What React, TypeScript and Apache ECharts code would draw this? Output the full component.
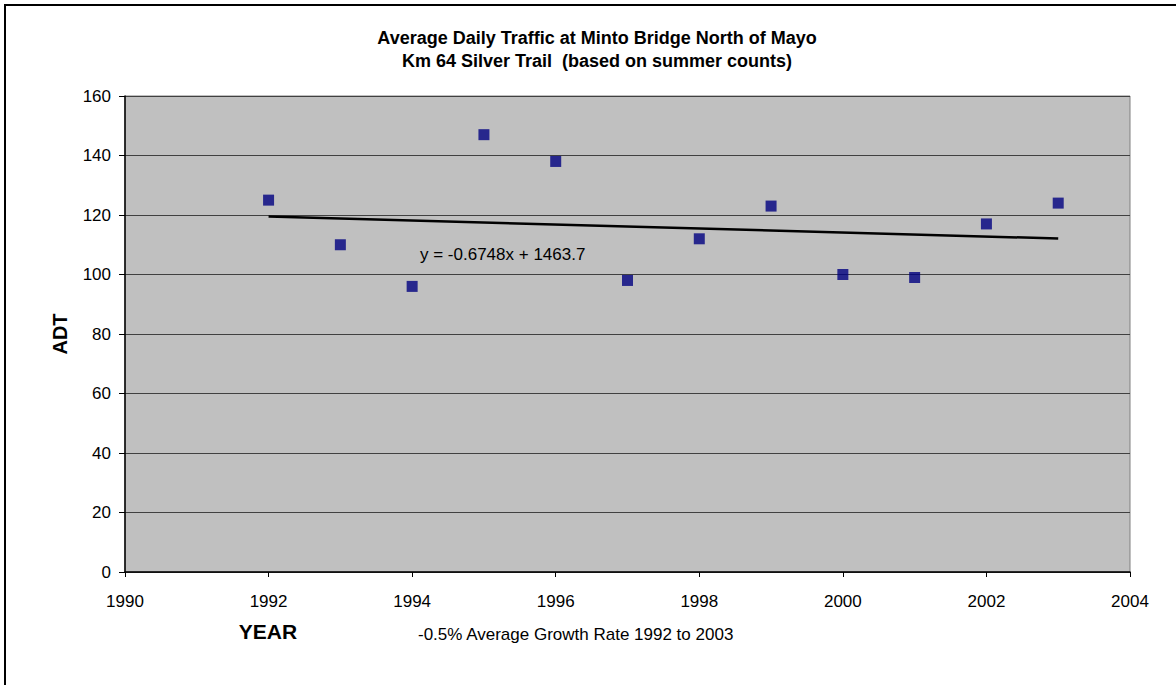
import React, { useEffect, useRef } from "react";
import * as echarts from "echarts";

const years = [1992, 1993, 1994, 1995, 1996, 1997, 1998, 1999, 2000, 2001, 2002, 2003];
const adt = [125, 110, 96, 147, 138, 98, 112, 123, 100, 99, 117, 124];
const trendYears = [1992, 2003];
const trendValues = [119.5, 112.1];
const titleLines = ["Average Daily Traffic at Minto Bridge North of Mayo", "Km 64 Silver Trail  (based on summer counts)"];
const equationText = "y = -0.6748x + 1463.7";
const growthText = "-0.5% Average Growth Rate 1992 to 2003";

const FONT = "'Liberation Sans', Arial, sans-serif";

export default function App() {
  const ref = useRef<HTMLDivElement>(null);
  useEffect(() => {
    if (!ref.current) return;
    const chart = echarts.init(ref.current, undefined, { renderer: "svg" });
    chart.setOption({
      animation: false,
      backgroundColor: "#ffffff",
      textStyle: { fontFamily: FONT },
      grid: {
        left: 125,
        top: 96,
        right: 46,
        bottom: 113,
        show: true,
        backgroundColor: "#c0c0c0",
        borderColor: "#808080",
        borderWidth: 1,
      },
      xAxis: {
        type: "value",
        min: 1990,
        max: 2004,
        interval: 2,
        axisLine: { show: true, lineStyle: { color: "#000", width: 1.5 } },
        axisTick: { show: true, length: 5, inside: false, lineStyle: { color: "#000" } },
        axisLabel: { color: "#000", fontSize: 17, fontFamily: FONT, margin: 21, formatter: (v: number) => String(v) },
        splitLine: { show: false },
      },
      yAxis: {
        type: "value",
        min: 0,
        max: 160,
        interval: 20,
        axisLine: { show: true, lineStyle: { color: "#000", width: 1.5 } },
        axisTick: { show: true, length: 6, lineStyle: { color: "#000" } },
        axisLabel: { color: "#000", fontSize: 17, fontFamily: FONT, margin: 14 },
        splitLine: { show: true, lineStyle: { color: "#404040", width: 1 } },
      },
      series: [
        {
          type: "scatter",
          data: years.map((y, i) => [y, adt[i]]),
          symbol: "rect",
          symbolSize: 11,
          itemStyle: { color: "#000080" },
          z: 3,
        },
        {
          type: "line",
          data: trendYears.map((y, i) => [y, trendValues[i]]),
          symbol: "none",
          lineStyle: { color: "#000", width: 2.5 },
          z: 2,
        },
      ],
      graphic: [
        {
          type: "rect",
          shape: { x: 5, y: 5, width: 1300, height: 800 },
          style: { fill: "none", stroke: "#000", lineWidth: 2 },
          silent: true,
        },
        {
          type: "text",
          x: 597,
          y: 38,
          style: { text: titleLines[0], fontSize: 18, fontWeight: "bold", fontFamily: FONT, fill: "#000", align: "center", verticalAlign: "middle" },
        },
        {
          type: "text",
          x: 597,
          y: 61,
          style: { text: titleLines[1], fontSize: 18, fontWeight: "bold", fontFamily: FONT, fill: "#000", align: "center", verticalAlign: "middle" },
        },
        {
          type: "text",
          x: 420,
          y: 254,
          z: 10,
          style: { text: equationText, fontSize: 17, fontFamily: FONT, fill: "#000", align: "left", verticalAlign: "middle" },
        },
        {
          type: "text",
          x: 60,
          y: 334,
          rotation: Math.PI / 2,
          style: { text: "ADT", fontSize: 20, fontWeight: "bold", fontFamily: FONT, fill: "#000", align: "center", verticalAlign: "middle" },
        },
        {
          type: "text",
          x: 268,
          y: 631,
          style: { text: "YEAR", fontSize: 21, fontWeight: "bold", fontFamily: FONT, fill: "#000", align: "center", verticalAlign: "middle" },
        },
        {
          type: "text",
          x: 418,
          y: 634,
          style: { text: growthText, fontSize: 17, fontFamily: FONT, fill: "#000", align: "left", verticalAlign: "middle" },
        },
      ],
    });
    return () => chart.dispose();
  }, []);
  return (
    <div
      ref={ref}
      style={{ position: "absolute", left: 0, top: 0, width: 1176, height: 685 }}
    />
  );
}
